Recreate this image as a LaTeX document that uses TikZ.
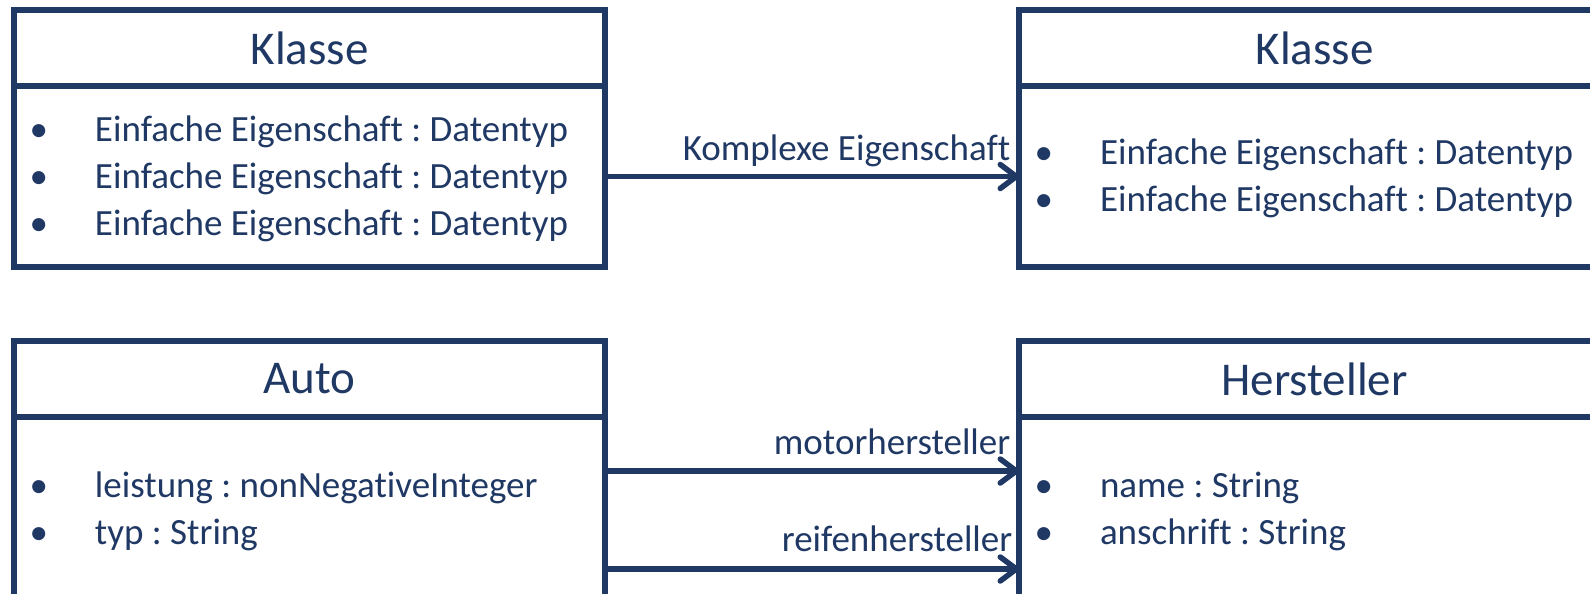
\documentclass[tikz,border=0pt]{standalone}
\usepackage{fontspec}
\setmainfont{Carlito}[Ligatures=NoCommon]
\usetikzlibrary{arrows.meta,positioning}
\definecolor{navy}{RGB}{31,56,100}
\newcommand\itm[1]{\spaceskip=0pt\xspaceskip=0pt\rule[-5.5pt]{0pt}{22.5pt}\makebox[32.75pt][l]{•}#1}
\begin{document}
\frenchspacing
\begin{tikzpicture}[x=0.5pt,y=-0.5pt,
  every node/.style={text=navy},
  hdr/.style={draw=navy, line width=2.75pt, minimum width=295.5pt, minimum height=38pt,
    outer sep=0pt, inner sep=0pt, font=\fontsize{23.5}{28}\selectfont},
  bdy/.style={draw=navy, line width=2.75pt, minimum width=295.5pt, text width=280pt,
    inner xsep=7.75pt, inner ysep=0pt, outer sep=0pt, align=left,
    font=\fontsize{18.5}{22.3}\selectfont\frenchspacing},
  arr/.style={draw=navy, line width=2.75pt, -{Straight Barb[length=8pt,width=12pt,round]}},
  lbl/.style={anchor=base east, inner sep=0pt, font=\fontsize{18.5}{22}\selectfont}
]
\useasboundingbox (0,0) rectangle (1590,594);
\clip (0,0) rectangle (1590,594);

% top left class
\node[hdr] (k1h) at (309.5,48) {Klasse};
\node[bdy, minimum height=90.5pt, below=0pt of k1h] (k1b)
  {\itm{Einfache Eigenschaft : Datentyp}\\\itm{Einfache Eigenschaft : Datentyp}\\\itm{Einfache Eigenschaft : Datentyp}};

% top right class
\node[hdr] (k2h) at (1314.5,48) {Klasse};
\node[bdy, minimum height=90.5pt, below=0pt of k2h] (k2b)
  {\itm{Einfache Eigenschaft : Datentyp}\\\itm{Einfache Eigenschaft : Datentyp}};

% bottom left class
\node[hdr] (autoh) at (309.5,379) {Auto};
\node[bdy, minimum height=92pt, below=0pt of autoh] (autob)
  {\itm{leistung : nonNegativeInteger}\\\itm{typ : String}};

% bottom right class
\node[hdr] (herh) at (1314.5,379) {Hersteller};
\node[bdy, minimum height=92pt, below=0pt of herh] (herb)
  {\itm{name : String}\\\itm{anschrift : String}};

% connectors
\draw[arr] (k1b.east) -- (k2b.west)
  node[lbl, xshift=-3pt, yshift=8pt] {Komplexe Eigenschaft};
\draw[arr] ([yshift=19pt]autob.east) -- ([yshift=19pt]herb.west)
  node[lbl, xshift=-3pt, yshift=8.5pt] {motorhersteller};
\draw[arr] ([yshift=-30pt]autob.east) -- ([yshift=-30pt]herb.west)
  node[lbl, xshift=-2pt, yshift=9pt] {reifenhersteller};
\end{tikzpicture}
\end{document}
